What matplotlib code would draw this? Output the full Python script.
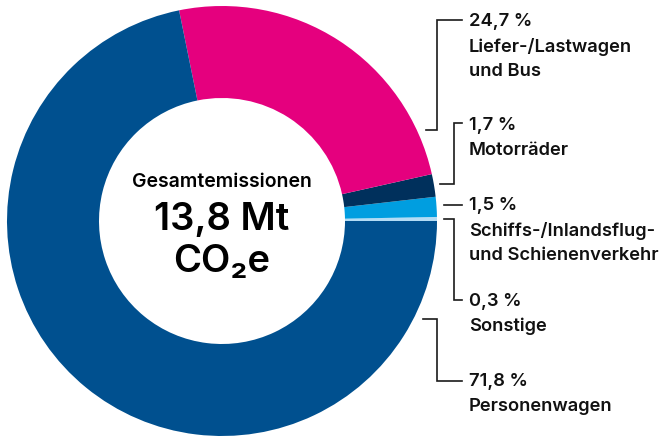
import matplotlib.pyplot as plt

# =========================================================
# DATA
# =========================================================

# pie order, counter-clockwise from 3 o'clock
shares = [0.3, 1.5, 1.7, 24.7, 71.8]
colors = ["#b3dcf5", "#009ee0", "#00305c", "#e5007e", "#00508f"]

# label blocks on the right (top to bottom)
label_lines = [
    ["24,7 %", "Liefer-/Lastwagen", "und Bus"],
    ["1,7 %", "Motorräder"],
    ["1,5 %", "Schiffs-/Inlandsflug-", "und Schienenverkehr"],
    ["0,3 %", "Sonstige"],
    ["71,8 %", "Personenwagen"],
]
label_top_px = [21, 125, 205, 301, 381]

total_title = "Gesamtemissionen"
total_value = "13,8 Mt"
total_unit = "CO₂e"

# =========================================================
# FIGURE
# =========================================================

W, H = 668, 437
plt.rcParams["font.family"] = ["Inter", "DejaVu Sans"]
fig = plt.figure(figsize=(W / 100, H / 100), dpi=100)

# donut axes: centre (222, 221) px, radius 215 px
cx, cy, R = 222, 221, 215
ax = fig.add_axes([(cx - R) / W, (H - cy - R) / H, 2 * R / W, 2 * R / H])
ax.pie(shares, colors=colors, startangle=0, counterclock=True, radius=1,
       wedgeprops=dict(width=1 - 123 / 215, linewidth=0))
ax.set_xlim(-1, 1)
ax.set_ylim(-1, 1)
ax.set_aspect("equal")
ax.axis("off")

# centre text
ax.text(0, (cy - 182) / R, total_title, ha="center", va="center",
        fontsize=14, fontweight="semibold")
ax.text(0, (cy - 220) / R, total_value, ha="center", va="center",
        fontsize=27.5, fontweight="semibold")
ax.text(0, (cy - 262) / R, total_unit, ha="center", va="center",
        fontsize=27.5, fontweight="semibold")

# overlay axes in pixel coordinates for labels and leaders
ov = fig.add_axes([0, 0, 1, 1])
ov.set_xlim(0, W)
ov.set_ylim(H, 0)
ov.axis("off")

leaders = [
    [(426, 130), (437, 130), (437, 20), (462, 20)],
    [(440, 184), (454, 184), (454, 123), (462, 123)],
    [(444, 205), (462, 205)],
    [(444, 219), (454, 219), (454, 300), (462, 300)],
    [(423, 319), (437, 319), (437, 381), (462, 381)],
]
for pts in leaders:
    xs, ys = zip(*pts)
    ov.plot(xs, ys, color="#1a1a1a", linewidth=1.2, solid_joinstyle="miter")

for lines, top in zip(label_lines, label_top_px):
    for i, line in enumerate(lines):
        ov.text(469, top + i * 25.5, line, ha="left", va="center",
                fontsize=13.2, fontweight="semibold", color="#111111")

fig.savefig("out.png", dpi=100)
